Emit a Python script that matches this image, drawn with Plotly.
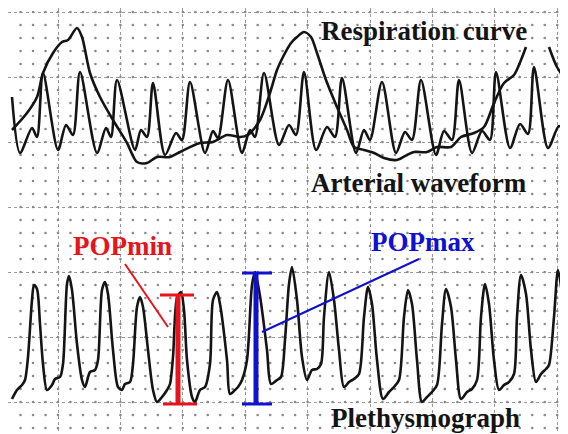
import plotly.graph_objects as go

# ---- data (pixel-like units, y grows downward) ----
art_x = [12, 20, 32, 37, 43, 58, 66, 73, 80, 97, 106, 111, 117, 135, 141, 147, 153, 165, 176, 182, 190,
         205, 213, 218, 228, 242, 250, 255, 264, 279, 289, 296, 304, 316, 327, 335, 342, 356, 364, 370,
         382, 396, 405, 412, 421, 436, 444, 452, 459, 472, 482, 490, 496, 510, 520, 528, 534, 548, 559, 566]
art_y = [97, 153, 128, 137, 73, 150, 125, 135, 72, 153, 128, 137, 80, 150, 130, 137, 83, 155, 133, 140, 82,
         153, 131, 138, 80, 153, 130, 137, 73, 145, 125, 135, 72, 150, 127, 137, 78, 153, 130, 140,
         82, 153, 132, 140, 80, 155, 131, 140, 80, 153, 131, 140, 72, 148, 124, 134, 67, 148, 126, 135]

resp_x = [12, 27, 37, 43, 53, 62, 68, 77, 82, 90, 100, 113, 127, 137, 147, 157, 170, 180, 200, 213, 227,
          240, 248, 260, 270, 277, 284, 291, 297, 304, 311, 317, 326, 337, 347, 354, 364, 374, 384, 397,
          407, 414, 427, 437, 451, 461, 474, 484, 494, 504, 514, 521, 526, None, 549, 557, 568]
resp_y = [130, 113, 97, 73, 53, 42, 40, 28, 37, 73, 97, 120, 143, 162, 163, 157, 157, 152, 143, 142, 135,
          137, 135, 120, 93, 70, 55, 43, 37, 32, 37, 53, 80, 107, 130, 147, 150, 153, 158, 160,
          155, 152, 152, 147, 147, 137, 133, 127, 103, 83, 75, 60, 47, None, 47, 67, 83]

pleth_x = [12, 17, 22, 25, 28, 32, 34, 37, 40, 43, 47, 52, 55, 60, 63, 67, 69, 72, 77, 82, 85, 90, 95, 98,
           102, 105, 108, 113, 118, 122, 125, 130, 133, 137, 140, 143, 148, 153, 157, 162, 167, 170, 173,
           177, 181, 184, 187, 192, 195, 200, 205, 210, 213, 217, 220, 227, 230, 235, 238, 242, 247, 252,
           255, 260, 267, 271, 277, 281, 285, 289, 292, 297, 302, 307, 312, 317, 321, 324, 329, 334, 339,
           344, 349, 354, 359, 364, 368, 372, 377, 383, 389, 394, 399, 404, 408, 412, 417, 422, 427, 432,
           437, 442, 446, 451, 456, 461, 467, 472, 477, 481, 485, 489, 494, 499, 504, 509, 514, 517, 521,
           526, 531, 536, 541, 546, 549, 554, 558, 562, 568]
pleth_y = [399, 390, 385, 380, 357, 300, 285, 289, 324, 364, 390, 385, 379, 377, 364, 284, 276, 290, 344,
           380, 387, 372, 370, 360, 290, 282, 294, 350, 387, 390, 384, 382, 364, 307, 297, 307, 350, 390,
           402, 397, 390, 384, 357, 298, 292, 310, 360, 397, 402, 390, 387, 364, 300, 292, 304, 360, 394,
           390, 387, 380, 360, 285, 272, 296, 350, 384, 380, 377, 340, 284, 267, 300, 357, 380, 370, 369,
           364, 317, 272, 300, 350, 387, 382, 379, 374, 317, 287, 304, 360, 399, 392, 387, 380, 317, 290,
           304, 360, 402, 397, 392, 385, 324, 289, 307, 360, 399, 392, 389, 380, 317, 284, 304, 360, 390,
           385, 382, 374, 317, 275, 294, 350, 382, 374, 369, 365, 317, 270, 294, 350]

# POP bars: x position, top, bottom, cap extents
popmin_x, popmin_top, popmin_bottom = 178, 295, 404
popmin_cap_top = [160, 194]
popmin_cap_bottom = [163, 197]
popmax_x, popmax_top, popmax_bottom = 256, 273, 404
popmax_cap = [242, 272]
popmin_pointer = ([125, 168], [264, 327])
popmax_pointer = ([262, 419], [332, 259])

grid_x0, grid_dx = 58, 62.4
grid_y0, grid_dy = 12, 65

RED = "#e8141c"
BLUE = "#1010d0"
INK = "#141414"

fig = go.Figure()

# minor dot grid
dots_x, dots_y = [], []
for i in range(-5, 46):
    for j in range(0, 33):
        xv = grid_x0 + i * grid_dx / 5
        yv = grid_y0 + j * grid_dy / 5
        if 10 <= xv <= 566 and 12 <= yv <= 432:
            dots_x.append(xv)
            dots_y.append(yv)
fig.add_trace(go.Scatter(x=dots_x, y=dots_y, mode="markers",
                         marker=dict(size=2.6, color="#8a8a8a"), hoverinfo="skip"))

line_style = dict(color=INK, width=2.6, shape="spline", smoothing=0.8)
fig.add_trace(go.Scatter(x=art_x, y=art_y, mode="lines", line=line_style))
fig.add_trace(go.Scatter(x=resp_x, y=resp_y, mode="lines", line=line_style, connectgaps=False))
fig.add_trace(go.Scatter(x=pleth_x, y=pleth_y, mode="lines", line=line_style))

# POPmin bar
fig.add_trace(go.Scatter(x=popmin_pointer[0], y=popmin_pointer[1], mode="lines",
                         line=dict(color=RED, width=2)))
fig.add_trace(go.Scatter(x=[popmin_x, popmin_x], y=[popmin_top, popmin_bottom], mode="lines",
                         line=dict(color=RED, width=5)))
fig.add_trace(go.Scatter(x=popmin_cap_top, y=[popmin_top, popmin_top], mode="lines",
                         line=dict(color=RED, width=3)))
fig.add_trace(go.Scatter(x=popmin_cap_bottom, y=[popmin_bottom, popmin_bottom], mode="lines",
                         line=dict(color=RED, width=3)))
# POPmax bar
fig.add_trace(go.Scatter(x=popmax_pointer[0], y=popmax_pointer[1], mode="lines",
                         line=dict(color=BLUE, width=2)))
fig.add_trace(go.Scatter(x=[popmax_x, popmax_x], y=[popmax_top, popmax_bottom], mode="lines",
                         line=dict(color=BLUE, width=5)))
fig.add_trace(go.Scatter(x=popmax_cap, y=[popmax_top, popmax_top], mode="lines",
                         line=dict(color=BLUE, width=3)))
fig.add_trace(go.Scatter(x=popmax_cap, y=[popmax_bottom, popmax_bottom], mode="lines",
                         line=dict(color=BLUE, width=3)))

font = "Liberation Serif, Times New Roman, serif"
labels = [
    ("Respiration curve", 424, 31, INK),
    ("Arterial waveform", 419, 183, INK),
    ("Plethysmograph", 425, 418, INK),
    ("POPmin", 122, 246, RED),
    ("POPmax", 423, 242, BLUE),
]
for txt, xv, yv, col in labels:
    fig.add_annotation(x=xv, y=yv, text="<b>" + txt + "</b>", showarrow=False,
                       font=dict(family=font, size=27, color=col),
                       xanchor="center", yanchor="middle")

# the page body adds an 8px offset; the axis ranges start at 8 so that
# data units line up with the window pixels
fig.update_xaxes(range=[8, 568], showgrid=True, gridcolor="#9a9a9a", griddash="dot", gridwidth=1.4,
                 tick0=grid_x0, dtick=grid_dx, showticklabels=False, zeroline=False, showline=False,
                 ticks="")
fig.update_yaxes(range=[434, 8], showgrid=True, gridcolor="#9a9a9a", griddash="dot", gridwidth=1.4,
                 tick0=grid_y0, dtick=grid_dy, showticklabels=False, zeroline=False, showline=False,
                 ticks="")
fig.update_layout(width=560, height=426, margin=dict(l=0, r=0, t=0, b=0),
                  plot_bgcolor="white", paper_bgcolor="white", showlegend=False)

fig.write_html("out.html")
